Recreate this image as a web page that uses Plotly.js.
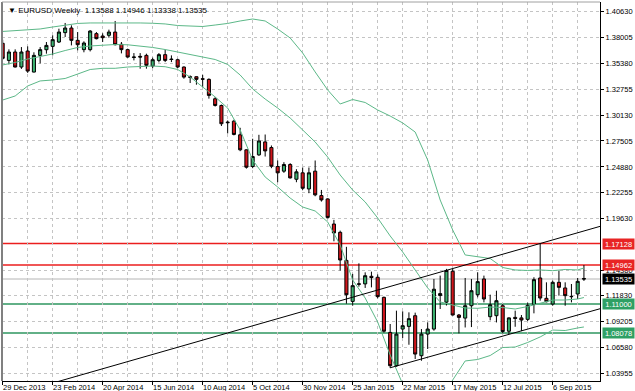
<!DOCTYPE html>
<html><head><meta charset="utf-8">
<script src="https://cdn.plot.ly/plotly-3.0.1.min.js"></script>
<style>html,body{margin:0;padding:0;background:#fff;}#chart{width:635px;height:391px;}</style>
</head><body><div id="chart"></div>
<script>
const weeks = ['2013-12-29','2014-01-05','2014-01-12','2014-01-19','2014-01-26','2014-02-02','2014-02-09','2014-02-16','2014-02-23','2014-03-02','2014-03-09','2014-03-16','2014-03-23','2014-03-30','2014-04-06','2014-04-13','2014-04-20','2014-04-27','2014-05-04','2014-05-11','2014-05-18','2014-05-25','2014-06-01','2014-06-08','2014-06-15','2014-06-22','2014-06-29','2014-07-06','2014-07-13','2014-07-20','2014-07-27','2014-08-03','2014-08-10','2014-08-17','2014-08-24','2014-08-31','2014-09-07','2014-09-14','2014-09-21','2014-09-28','2014-10-05','2014-10-12','2014-10-19','2014-10-26','2014-11-02','2014-11-09','2014-11-16','2014-11-23','2014-11-30','2014-12-07','2014-12-14','2014-12-21','2014-12-28','2015-01-04','2015-01-11','2015-01-18','2015-01-25','2015-02-01','2015-02-08','2015-02-15','2015-02-22','2015-03-01','2015-03-08','2015-03-15','2015-03-22','2015-03-29','2015-04-05','2015-04-12','2015-04-19','2015-04-26','2015-05-03','2015-05-10','2015-05-17','2015-05-24','2015-05-31','2015-06-07','2015-06-14','2015-06-21','2015-06-28','2015-07-05','2015-07-12','2015-07-19','2015-07-26','2015-08-02','2015-08-09','2015-08-16','2015-08-23','2015-08-30','2015-09-06','2015-09-13','2015-09-20','2015-09-27','2015-10-04','2015-10-11'];

const open  = [1.3739,1.3566,1.3651,1.3499,1.3661,1.3448,1.3617,1.3674,1.3708,1.3752,1.3847,1.3894,1.3769,1.3675,1.3675,1.3837,1.3813,1.3820,1.3853,1.3729,1.3675,1.3595,1.3607,1.3617,1.3509,1.3566,1.3624,1.3580,1.3573,1.3499,1.3401,1.3401,1.3380,1.3374,1.3178,1.3110,1.2935,1.2951,1.2813,1.2661,1.2492,1.2610,1.2741,1.2684,1.2492,1.2445,1.2512,1.2363,1.2428,1.2265,1.2445,1.2198,1.2164,1.1910,1.1826,1.1542,1.1127,1.1300,1.1304,1.1381,1.1371,1.1168,1.0813,1.0476,1.0847,1.0874,1.0982,1.0577,1.0796,1.0847,1.1186,1.1119,1.1432,1.0989,1.0958,1.1083,1.1195,1.1354,1.0972,1.0982,1.1083,1.0825,1.0965,1.0960,1.0945,1.1094,1.1364,1.1158,1.1100,1.1320,1.1263,1.1178,1.1202,1.13588];
const high  = [1.3775,1.3678,1.3678,1.3701,1.3708,1.3648,1.3701,1.3752,1.3820,1.3887,1.3945,1.3921,1.3853,1.3759,1.3873,1.3853,1.3840,1.3877,1.3965,1.3752,1.3685,1.3640,1.3640,1.3634,1.3594,1.3640,1.3675,1.3617,1.3583,1.3505,1.3414,1.3404,1.3420,1.3384,1.3195,1.3119,1.2958,1.2965,1.2884,1.2665,1.2773,1.2813,1.2816,1.2705,1.2553,1.2536,1.2526,1.2465,1.2482,1.2482,1.2553,1.2255,1.2170,1.1952,1.1843,1.1679,1.1405,1.1512,1.1421,1.1428,1.1400,1.1175,1.0898,1.1033,1.1026,1.1016,1.1013,1.0847,1.0914,1.1354,1.1388,1.1456,1.1456,1.0999,1.1364,1.1354,1.1421,1.1388,1.1195,1.1235,1.1100,1.0965,1.1033,1.0989,1.1114,1.1371,1.1713,1.1320,1.1337,1.1439,1.1320,1.1303,1.1364,1.14946];
const low   = [1.3570,1.3526,1.3495,1.3480,1.3440,1.3445,1.3536,1.3634,1.3617,1.3742,1.3803,1.3718,1.3668,1.3648,1.3657,1.3779,1.3752,1.3796,1.3718,1.3637,1.3594,1.3566,1.3482,1.3482,1.3488,1.3546,1.3549,1.3549,1.3488,1.3381,1.3337,1.3320,1.3296,1.3179,1.3099,1.2902,1.2827,1.2807,1.2647,1.2471,1.2475,1.2600,1.2593,1.2475,1.2333,1.2428,1.2370,1.2333,1.2255,1.2222,1.2191,1.2137,1.1967,1.1735,1.1438,1.1104,1.1083,1.1276,1.1263,1.1269,1.1158,1.0811,1.0452,1.0466,1.0756,1.0688,1.0544,1.0526,1.0645,1.0830,1.1050,1.1085,1.0985,1.0803,1.0863,1.0867,1.1168,1.1117,1.0935,1.0914,1.0803,1.0796,1.0870,1.0826,1.0928,1.1006,1.1134,1.1117,1.1083,1.1185,1.1083,1.1117,1.1151,1.13338];
const close = [1.3587,1.3651,1.3499,1.3651,1.3458,1.3617,1.3675,1.3718,1.3776,1.3853,1.3894,1.3769,1.3725,1.3742,1.3863,1.3786,1.3796,1.3853,1.3725,1.3675,1.3600,1.3600,1.3600,1.3516,1.3573,1.3624,1.3566,1.3575,1.3499,1.3397,1.3395,1.3374,1.3376,1.3212,1.3110,1.2925,1.2940,1.2817,1.2661,1.2485,1.2593,1.2751,1.2650,1.2495,1.2428,1.2512,1.2377,1.2438,1.2272,1.2428,1.2205,1.2154,1.1977,1.1820,1.1546,1.1194,1.1286,1.1304,1.1387,1.1368,1.1175,1.0825,1.0476,1.0796,1.0881,1.0952,1.0594,1.0796,1.0847,1.1250,1.1206,1.1439,1.0989,1.0965,1.1083,1.1235,1.1327,1.1151,1.1093,1.1134,1.0822,1.0960,1.0955,1.0938,1.1087,1.1347,1.1161,1.1124,1.1320,1.1269,1.1185,1.1175,1.1330,1.13535];

const bandDates = ['2013-12-29','2014-01-12','2014-01-26','2014-02-09','2014-02-23','2014-03-09','2014-03-23','2014-04-06','2014-04-20','2014-05-04','2014-05-18','2014-06-01','2014-06-15','2014-06-29','2014-07-13','2014-07-27','2014-08-10','2014-08-24','2014-09-07','2014-09-21','2014-10-05','2014-10-19','2014-11-02','2014-11-16','2014-11-30','2014-12-14','2014-12-28','2015-01-11','2015-01-25','2015-02-08','2015-02-22','2015-03-08','2015-03-22','2015-04-05','2015-04-19','2015-05-03','2015-05-17','2015-05-31','2015-06-14','2015-06-28','2015-07-12','2015-07-26','2015-08-09','2015-08-23','2015-09-06','2015-09-20','2015-10-04','2015-10-11'];
const bbUpper  = [1.3859,1.3869,1.3874,1.3884,1.3904,1.3924,1.3940,1.3945,1.3945,1.3950,1.3948,1.3945,1.3942,1.3935,1.3919,1.3911,1.3909,1.3924,1.3940,1.3965,1.3985,1.3965,1.3884,1.3793,1.3641,1.3449,1.3267,1.3125,1.3170,1.3140,1.3064,1.3003,1.2933,1.2841,1.2558,1.2153,1.1850,1.1597,1.1576,1.1561,1.1470,1.1445,1.1440,1.1445,1.1438,1.1450,1.1445,1.1465];
const bbMiddle = [1.3520,1.3545,1.3580,1.3606,1.3631,1.3666,1.3697,1.3712,1.3722,1.3727,1.3724,1.3712,1.3697,1.3676,1.3651,1.3621,1.3601,1.3575,1.3525,1.3418,1.3277,1.3175,1.3084,1.2983,1.2862,1.2740,1.2588,1.2406,1.2254,1.2133,1.1971,1.1789,1.1627,1.1445,1.1263,1.1121,1.1091,1.1060,1.1057,1.1070,1.1065,1.1050,1.1075,1.1106,1.1141,1.1141,1.1151,1.1166];
const bbLower  = [1.3165,1.3206,1.3307,1.3358,1.3368,1.3383,1.3428,1.3474,1.3486,1.3486,1.3499,1.3504,1.3509,1.3502,1.3474,1.3398,1.3300,1.3196,1.3084,1.2862,1.2558,1.2386,1.2285,1.2173,1.2082,1.2042,1.1931,1.1698,1.1344,1.1161,1.0918,1.0584,1.0291,1.0048,0.9886,1.0089,1.0331,1.0524,1.0539,1.0579,1.0660,1.0665,1.0711,1.0767,1.0837,1.0832,1.0858,1.0868];

const resistanceLevels = [1.17128, 1.14962];
const supportLevels = [1.11000, 1.08078];
const lastPrice = 1.13535;
const upperTrendDates = ['2014-02-09','2015-11-08'];
const upperTrendPrices = [1.0264, 1.1912];
const lowerTrendDates = ['2015-03-08','2015-11-08'];
const lowerTrendPrices = [1.0455, 1.1078];

const yTickVals = [1.40630,1.38005,1.35380,1.32755,1.30130,1.27505,1.24880,1.22255,1.19630,1.14380,1.11830,1.09205,1.06580,1.03955];
const yTickText = ['1.40630','1.38005','1.35380','1.32755','1.30130','1.27505','1.24880','1.22255','1.19630','1.14380','1.11830','1.09205','1.06580','1.03955'];
const xTickDates = ['2013-12-29','2014-02-23','2014-04-20','2014-06-15','2014-08-10','2014-10-05','2014-11-30','2015-01-25','2015-03-22','2015-05-17','2015-07-12','2015-09-06'];
const xTickText = ['29 Dec 2013','23 Feb 2014','20 Apr 2014','15 Jun 2014','10 Aug 2014','5 Oct 2014','30 Nov 2014','25 Jan 2015','22 Mar 2015','17 May 2015','12 Jul 2015','6 Sep 2015'];
const xMinorGridDates = ['2014-01-26','2014-03-23','2014-05-18','2014-07-13','2014-09-07','2014-11-02','2014-12-28','2015-02-22','2015-04-19','2015-06-14','2015-08-09','2015-10-04'];
const headerText = '\u25BC EURUSD,Weekly\u00a0\u00a01.13588 1.14946 1.13338 1.13535';

const FONT = 'Liberation Sans, Arial, sans-serif';
const bandColor = 'rgb(92,184,136)';

const traces = [
  {type:'scatter', mode:'lines', x:bandDates, y:bbUpper, line:{color:bandColor, width:1}, hoverinfo:'skip'},
  {type:'scatter', mode:'lines', x:bandDates, y:bbMiddle, line:{color:bandColor, width:1}, hoverinfo:'skip'},
  {type:'scatter', mode:'lines', x:bandDates, y:bbLower, line:{color:bandColor, width:1}, hoverinfo:'skip'},
  {type:'scatter', mode:'lines', x:upperTrendDates, y:upperTrendPrices, line:{color:'#000', width:1}, hoverinfo:'skip'},
  {type:'scatter', mode:'lines', x:lowerTrendDates, y:lowerTrendPrices, line:{color:'#000', width:1}, hoverinfo:'skip'},
  {type:'candlestick', x:weeks, open:open, high:high, low:low, close:close,
   increasing:{fillcolor:'#3cb371', line:{color:'#000', width:1}},
   decreasing:{fillcolor:'#d0161c', line:{color:'#000', width:1}},
   whiskerwidth:0, hoverinfo:'skip'}
];

const shapes = [];
resistanceLevels.forEach(v => shapes.push({type:'line', xref:'paper', x0:0, x1:1, yref:'y', y0:v, y1:v, line:{color:'rgb(235,30,30)', width:1.5}, layer:'between'}));
supportLevels.forEach(v => shapes.push({type:'line', xref:'paper', x0:0, x1:1, yref:'y', y0:v, y1:v, line:{color:'rgb(46,150,95)', width:1.5}, layer:'between'}));
shapes.push({type:'line', xref:'paper', x0:0, x1:1, yref:'y', y0:lastPrice, y1:lastPrice, line:{color:'#b4b4b4', width:1}, layer:'between'});
shapes.push({type:'line', xref:'paper', x0:0, x1:0, yref:'paper', y0:0, y1:1, line:{color:'#808080', width:2}});
shapes.push({type:'line', xref:'paper', x0:0, x1:1, yref:'paper', y0:1, y1:1, line:{color:'#a0a0a0', width:1}});

const annotations = [];
function tag(v, bg){
  annotations.push({xref:'paper', x:1, xanchor:'left', xshift:2, yref:'y', y:v, yanchor:'middle',
    text:v.toFixed(5), showarrow:false, bgcolor:bg, width:31, height:10, borderpad:0,
    font:{family:FONT, size:7.5, color:'#fff'}, align:'center'});
}
resistanceLevels.forEach(v => tag(v, 'rgb(232,36,36)'));
supportLevels.forEach(v => tag(v, 'rgb(46,160,100)'));
tag(lastPrice, '#000');
annotations.push({xref:'paper', x:0, xanchor:'left', xshift:4, yref:'paper', y:1, yanchor:'top', yshift:-2,
  text:headerText, showarrow:false, font:{family:FONT, size:8, color:'#000'}});
xTickDates.forEach((d, k) => annotations.push({xref:'x', x:d, xanchor:'left', xshift:-1, yref:'paper', y:0, yanchor:'top', yshift:-1,
  text:xTickText[k], showarrow:false, borderpad:0, font:{family:FONT, size:7.5, color:'#000'}}));

const layout = {
  width:635, height:391,
  margin:{l:2, r:35, t:2, b:10, pad:0},
  paper_bgcolor:'#fff', plot_bgcolor:'#fff',
  showlegend:false,
  xaxis:{type:'date', range:['2013-12-28 06:00','2015-10-29'], rangeslider:{visible:false},
    tickmode:'array', tickvals:xTickDates, ticktext:xTickDates.map(() => ''),
    ticks:'outside', ticklen:3, tickcolor:'#000',
    showgrid:true, gridcolor:'#c4c4c4', griddash:'3px,3px', gridwidth:1,
    minor:{tickmode:'array', tickvals:xMinorGridDates, showgrid:true, gridcolor:'#c4c4c4', griddash:'3px,3px', ticks:''},
    showline:true, linecolor:'#000', linewidth:1, zeroline:false, fixedrange:true},
  yaxis:{side:'right', range:[1.03212, 1.41571], tickmode:'array', tickvals:yTickVals, ticktext:yTickText,
    ticks:'outside', ticklen:3, tickcolor:'#000', tickfont:{family:FONT, size:7.5, color:'#000'},
    showgrid:true, gridcolor:'#c4c4c4', griddash:'3px,3px', gridwidth:1,
    showline:true, linecolor:'#000', linewidth:1, zeroline:false, fixedrange:true},
  shapes:shapes, annotations:annotations
};

Plotly.newPlot('chart', traces, layout, {staticPlot:true, displayModeBar:false});
</script></body></html>
